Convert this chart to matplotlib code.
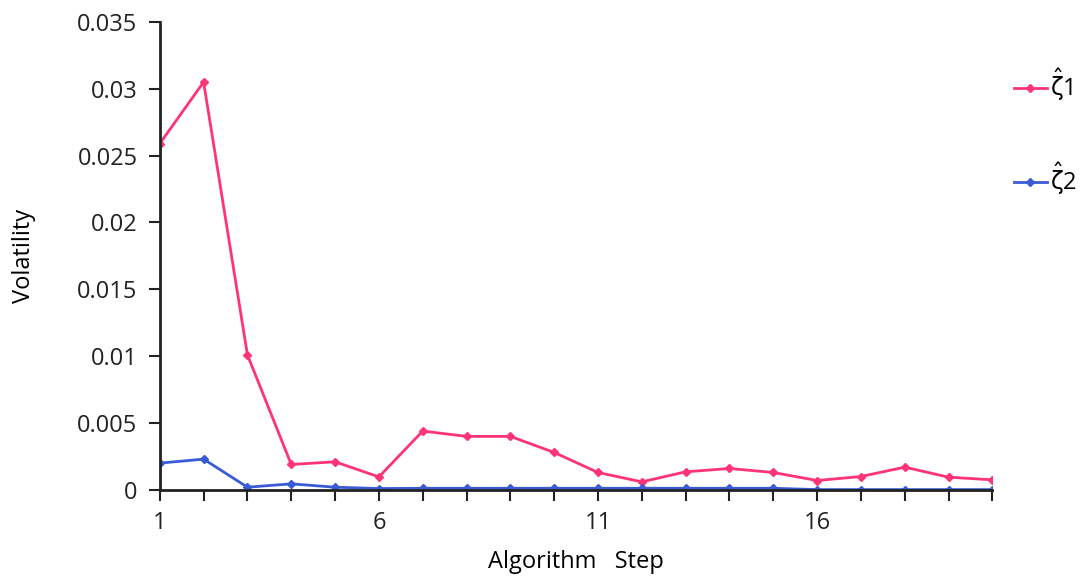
import matplotlib.pyplot as plt
import numpy as np

plt.rcParams['font.family'] = ['Open Sans', 'DejaVu Sans']
plt.rcParams['mathtext.fontset'] = 'dejavusans'

steps = np.arange(1, 21)
zeta1 = [0.0259, 0.0305, 0.0101, 0.0019, 0.0021, 0.00097, 0.0044, 0.0040, 0.0040, 0.0028,
         0.0013, 0.0006, 0.00135, 0.0016, 0.0013, 0.0007, 0.0010, 0.0017, 0.00095, 0.00075]
zeta2 = [0.0020, 0.0023, 0.0002, 0.00045, 0.0002, 0.0001, 0.00012, 0.00012, 0.00012, 0.00012,
         0.00012, 0.00012, 0.00012, 0.00012, 0.00012, 0.00002, 0.00002, 0.00002, 0.00002, 0.00002]
xtick_labels = ['1', '6', '11', '16']

fig = plt.figure(figsize=(10.87, 5.77), dpi=100)
ax = fig.add_axes([0.147, 0.151, 0.766, 0.811])

ax.plot(steps, zeta1, color='#ff3377', lw=2, marker='D', ms=4, label=r'$\hat{\mathrm{\zeta}}$1')
ax.plot(steps, zeta2, color='#3a5bd6', lw=2, marker='D', ms=4, label=r'$\hat{\mathrm{\zeta}}$2')

ax.set_xlim(1, 20)
ax.set_ylim(0, 0.035)
ax.set_xticks(steps)
ax.set_xticklabels([str(s) if str(s) in xtick_labels else '' for s in steps])
ax.set_yticks(np.arange(0, 0.0351, 0.005))
ax.set_yticklabels(['0', '0.005', '0.01', '0.015', '0.02', '0.025', '0.03', '0.035'])
ax.tick_params(direction='out', length=8, width=1.5, labelsize=17, colors='#222222')
ax.tick_params(axis='x', pad=7)
ax.tick_params(axis='y', pad=8)

for side in ['top', 'right']:
    ax.spines[side].set_visible(False)
for side in ['left', 'bottom']:
    ax.spines[side].set_linewidth(2)
    ax.spines[side].set_color('#222222')

ax.set_xlabel('Algorithm   Step', fontsize=17, labelpad=11)
ax.set_ylabel('Volatility', fontsize=17, labelpad=30)

leg = ax.legend(loc='upper left', bbox_to_anchor=(1.0, 0.95), frameon=False, fontsize=17,
                labelspacing=2.45, handlelength=1.4, handletextpad=0.15)

fig.savefig('out.png', dpi=100)
